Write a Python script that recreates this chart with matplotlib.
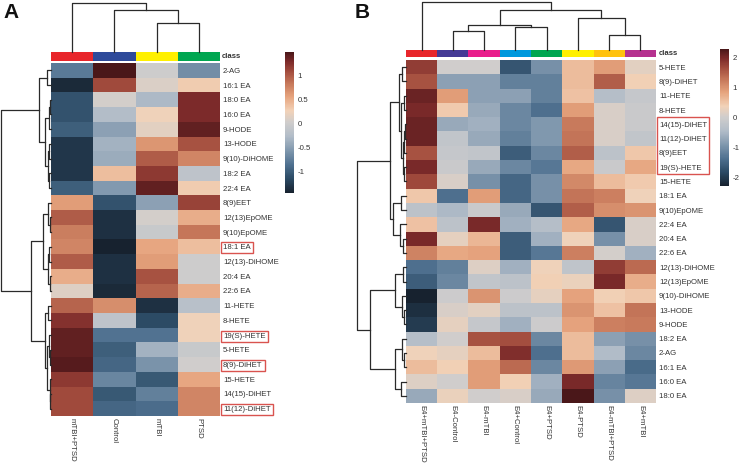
import numpy as np
import matplotlib
matplotlib.use('Agg')
from matplotlib import pyplot as plt
from matplotlib.colors import LinearSegmentedColormap, ListedColormap
from matplotlib.patches import Rectangle

plt.rcParams['font.family'] = ['Liberation Sans', 'DejaVu Sans']
plt.rcParams['axes.unicode_minus'] = False

W, H = 740, 463

# ---- panel A data ----
a_cols = ['mTBI+PTSD', 'Control', 'mTBI', 'PTSD']
a_class_colors = ['#e8262b', '#2e4a9a', '#fff000', '#00a651']
a_rows = ['2-AG', '16:1 EA', '18:0 EA', '16:0 EA', '9-HODE', '13-HODE',
          '9(10)-DiHOME', '18:2 EA', '22:4 EA', '8(9)EET', '12(13)EpOME',
          '9(10)EpOME', '18:1 EA', '12(13)-DiHOME', '20:4 EA', '22:6 EA',
          '11-HETE', '8-HETE', '19(S)-HETE', '5-HETE', '8(9)-DiHET',
          '15-HETE', '14(15)-DiHET', '11(12)-DiHET']
a_vals = [
    [-0.8, 1.5, 0.0, -0.65],
    [-1.4, 1.1, 0.1, 0.3],
    [-1.1, 0.05, -0.3, 1.3],
    [-1.1, -0.25, 0.25, 1.3],
    [-1.0, -0.5, 0.15, 1.4],
    [-1.3, -0.35, 0.65, 1.05],
    [-1.3, -0.4, 1.0, 0.75],
    [-1.3, 0.4, 1.2, -0.15],
    [-1.0, -0.55, 1.4, 0.3],
    [0.6, -1.1, -0.5, 1.15],
    [1.0, -1.35, 0.05, 0.5],
    [0.8, -1.35, -0.05, 0.85],
    [0.75, -1.46, 0.55, 0.4],
    [1.0, -1.35, 0.6, 0.0],
    [0.5, -1.35, 1.05, 0.0],
    [0.12, -1.4, 0.95, 0.5],
    [0.95, 0.7, -1.35, -0.2],
    [1.25, -0.15, -1.15, 0.25],
    [1.4, -0.85, -0.85, 0.25],
    [1.4, -1.0, -0.35, -0.05],
    [1.45, -0.95, -0.6, 0.02],
    [1.2, -0.7, -1.05, 0.55],
    [1.1, -1.05, -0.75, 0.75],
    [1.1, -0.95, -0.9, 0.75],
]
# linkage: (child, child, height), new clusters numbered from n upward
a_row_links = [(0, 1, 4.3), (2, 3, 1.0), (25, 4, 2.0), (5, 6, 2.0), (7, 8, 1.5),
               (27, 28, 3.0), (26, 29, 6.0), (24, 30, 11.7),
               (10, 11, 1.0), (9, 32, 2.5), (12, 13, 1.5), (14, 15, 1.0),
               (34, 35, 3.0), (33, 36, 7.7),
               (16, 17, 2.5), (19, 20, 0.7), (18, 39, 1.5), (22, 23, 0.5),
               (21, 41, 1.2), (40, 42, 3.5), (38, 43, 6.0),
               (37, 44, 19.3), (31, 45, 49.3)]
a_col_links = [(2, 3, 29), (1, 4, 42), (0, 5, 49)]
a_ticks = [-1, -0.5, 0, 0.5, 1]
a_boxed = ['18:1 EA', '19(S)-HETE', '8(9)-DiHET', '11(12)-DiHET']

# ---- panel B data ----
b_cols = ['E4+mTBI+PTSD', 'E4-Control', 'E4-mTBI', 'E4+Control', 'E4+PTSD',
          'E4-PTSD', 'E4-mTBI+PTSD', 'E4+mTBI']
b_class_colors = ['#e8262b', '#453a95', '#e91e8c', '#0099dd', '#00a651',
                  '#fff000', '#ffc20e', '#b5318f']
b_rows = ['5-HETE', '8(9)-DiHET', '11-HETE', '8-HETE', '14(15)-DiHET',
          '11(12)-DiHET', '8(9)EET', '19(S)-HETE', '15-HETE', '18:1 EA',
          '9(10)EpOME', '22:4 EA', '20:4 EA', '22:6 EA', '12(13)-DiHOME',
          '12(13)EpOME', '9(10)-DiHOME', '13-HODE', '9-HODE', '18:2 EA',
          '2-AG', '16:1 EA', '16:0 EA', '18:0 EA']
b_vals = [
    [1.8, 0.0, 0.0, -1.7, -1.0, 0.6, 0.9, 0.2],
    [1.6, -0.8, -0.8, -1.2, -1.2, 0.6, 1.5, 0.4],
    [2.1, 0.9, -0.8, -0.8, -1.2, 0.55, -0.4, -0.15],
    [2.0, 0.45, -0.7, -1.1, -1.4, 0.9, 0.1, -0.1],
    [2.1, -0.7, -0.6, -1.1, -0.9, 1.25, 0.1, -0.1],
    [2.1, -0.2, -0.7, -1.2, -0.9, 1.3, 0.1, -0.2],
    [1.6, -0.15, -0.2, -1.6, -1.1, 1.5, -0.3, 0.5],
    [2.0, -0.1, -0.7, -1.1, -1.3, 0.8, -0.1, 0.8],
    [1.7, 0.1, -1.0, -1.5, -1.0, 1.1, 0.6, 0.45],
    [0.5, -1.4, 0.9, -1.5, -1.0, 1.3, 1.2, 0.35],
    [-0.3, -0.5, -0.1, -0.7, -1.7, 1.5, 1.05, 1.0],
    [0.55, -0.3, 2.0, -0.6, -0.4, 0.8, -1.7, 0.1],
    [2.0, 0.25, 0.65, -1.6, -0.6, 0.35, -1.0, 0.1],
    [1.15, 0.8, 0.85, -1.6, -1.3, 1.2, 0.05, -0.6],
    [-1.4, -1.2, 0.15, -0.6, 0.35, -0.25, 1.8, 1.4],
    [-1.6, -1.1, -0.2, -0.3, 0.4, 0.3, 2.0, 0.75],
    [-2.3, -0.05, 1.0, -0.05, 0.25, 0.85, 0.4, 0.5],
    [-2.15, 0.1, 0.2, -0.3, -0.3, 1.0, 0.55, 1.3],
    [-2.0, 0.25, -0.15, -0.6, -0.05, 0.85, 1.2, 1.25],
    [-0.4, 0.0, 1.6, 1.65, -1.1, 0.6, -0.8, -1.0],
    [0.35, 0.25, 0.6, 1.95, -1.4, 0.6, -0.45, -1.1],
    [0.6, 0.4, 0.9, 1.4, -1.1, 0.95, -0.8, -1.45],
    [0.15, 0.0, 0.9, 0.4, -0.6, 2.0, -1.15, -1.3],
    [-0.7, 0.3, 0.0, 0.1, -0.7, 2.3, -1.0, 0.15],
]
b_row_links = [(0, 1, 4.3), (2, 3, 2.5), (4, 5, 1.0), (26, 6, 2.0), (7, 8, 2.5),
               (27, 28, 3.5), (25, 29, 5.0), (24, 30, 6.7),
               (9, 10, 5.0), (12, 13, 3.0), (11, 33, 6.0), (32, 34, 12.7),
               (31, 35, 16.0),
               (14, 15, 3.0), (17, 18, 2.0), (16, 38, 4.0), (37, 39, 11.0),
               (20, 21, 2.0), (19, 41, 4.0), (22, 23, 5.0), (42, 43, 11.0),
               (40, 44, 36.0), (36, 45, 49.0)]
b_col_links = [(1, 2, 19), (3, 4, 23.3), (8, 9, 25), (6, 7, 15), (5, 11, 32.7),
               (10, 12, 40), (0, 13, 48.3)]
b_ticks = [-2, -1, 0, 1, 2]
b_group_box = ('14(15)-DiHET', '19(S)-HETE')

cmap = LinearSegmentedColormap.from_list('mb', [
    (0.0, '#17222f'), (0.1, '#2b4a64'), (0.2, '#4f7190'), (0.3, '#7f97ad'),
    (0.4, '#b1bcc8'), (0.5, '#cfcdcc'), (0.583, '#f2d2b8'), (0.683, '#e6a47e'),
    (0.783, '#c47558'), (0.867, '#a04a3c'), (0.933, '#7c2a2a'), (1.0, '#4a1719')])

TXT = '#333333'
LINE = '#2a2a2a'
FS = 5.6
BOXC = '#d9534f'


def px(x0, y0, x1, y1):
    return [x0 / W, 1 - y1 / H, (x1 - x0) / W, (y1 - y0) / H]


def dendro_segments(links, n):
    pos = {i: i + 0.5 for i in range(n)}
    hgt = {i: 0.0 for i in range(n)}
    segs = []
    for k, (a, b, h) in enumerate(links):
        segs.append(([pos[a], pos[a], pos[b], pos[b]], [hgt[a], h, h, hgt[b]]))
        pos[n + k] = (pos[a] + pos[b]) / 2.
        hgt[n + k] = h
    return segs


def draw_dendro(ax, links, n, top):
    hmax = max(l[2] for l in links)
    for p, h in dendro_segments(links, n):
        if top:
            ax.plot(p, h, color=LINE, lw=0.9, clip_on=False)
        else:
            ax.plot(h, p, color=LINE, lw=0.9, clip_on=False)
    if top:
        ax.set_xlim(0, n)
        ax.set_ylim(0, hmax)
    else:
        ax.set_ylim(n, 0)
        ax.set_xlim(hmax, 0)
    ax.axis('off')


def panel(fig, boxes, rows, cols, vals, class_colors, row_links, col_links,
          ticks, col_pad, boxed=(), group=None):
    hm_b, bar_b, cd_b, rd_b, cb_b = boxes
    vals = np.array(vals)
    nr, nc = vals.shape

    ax = fig.add_axes(px(*hm_b))
    mesh = ax.pcolormesh(np.arange(nc + 1), np.arange(nr + 1), vals, cmap=cmap,
                         vmin=vals.min(), vmax=vals.max())
    ax.set_xlim(0, nc)
    ax.set_ylim(nr, 0)
    for s in ax.spines.values():
        s.set_visible(False)
    ax.yaxis.tick_right()
    ax.set_yticks(np.arange(nr) + 0.5)
    ax.set_yticklabels(rows, fontsize=FS, color=TXT)
    ax.set_xticks(np.arange(nc) + 0.5)
    ax.set_xticklabels(cols, fontsize=FS, color=TXT, rotation=270, va='top')
    ax.tick_params(axis='y', length=0, pad=2.2)
    ax.tick_params(axis='x', length=0, pad=col_pad)
    for lbl in ax.get_yticklabels():
        if lbl.get_text() in boxed:
            lbl.set_bbox(dict(boxstyle='square,pad=0.25', fc='none', ec=BOXC, lw=1))
    if group is not None:
        r0 = rows.index(group[0])
        r1 = rows.index(group[1]) + 1
        ax.add_patch(Rectangle((nc + 0.03, r0), 1.66, r1 - r0, fill=False,
                               ec=BOXC, lw=1, clip_on=False))

    bx = fig.add_axes(px(*bar_b))
    bx.pcolormesh(np.arange(nc + 1), [0, 1], np.arange(nc)[None, :],
                  cmap=ListedColormap(class_colors), vmin=-0.5, vmax=nc - 0.5)
    bx.set_xlim(0, nc)
    bx.axis('off')
    bx.text(1.012, 0.5, 'class', transform=bx.transAxes, va='center',
            ha='left', fontsize=FS, fontweight='bold', color=TXT)

    draw_dendro(fig.add_axes(px(*cd_b)), col_links, nc, True)
    draw_dendro(fig.add_axes(px(*rd_b)), row_links, nr, False)

    cax = fig.add_axes(px(*cb_b))
    cb = fig.colorbar(mesh, cax=cax, ticks=ticks, format='%g')
    cb.outline.set_visible(False)
    cax.tick_params(length=0, labelsize=FS, pad=2.5, colors=TXT)


fig = plt.figure(figsize=(7.4, 4.63), dpi=100)

panel(fig,
      [(51, 63, 220, 416), (51, 52, 220, 61), (51, 3, 220, 52), (1, 63, 51, 416),
       (285, 52, 294, 193)],
      a_rows, a_cols, a_vals, a_class_colors, a_row_links, a_col_links,
      a_ticks, 1.5, boxed=a_boxed)

panel(fig,
      [(406, 60, 656, 403), (406, 50, 656, 57), (406, 2, 656, 50),
       (357, 60, 406, 403), (720, 49, 729, 186)],
      b_rows, b_cols, b_vals, b_class_colors, b_row_links, b_col_links,
      b_ticks, 1.5, group=b_group_box)

fig.text(3 / W, 1 - 18 / H, 'A', fontsize=15, fontweight='bold', color='#111111')
fig.text(355 / W, 1 - 18 / H, 'B', fontsize=15, fontweight='bold', color='#111111')

fig.savefig('out.png', dpi=100)
plt.close(fig)
